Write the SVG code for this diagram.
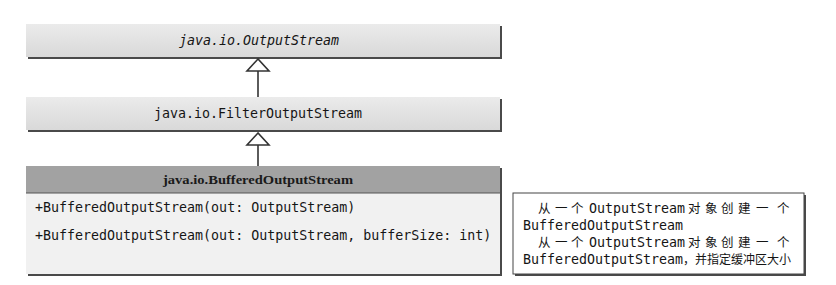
<svg xmlns="http://www.w3.org/2000/svg" width="836" height="285" viewBox="0 0 836 285">
  <style>
    .shadow { fill: #4a4a4a; }
    .cls { fill: url(#boxFill); }
    .mono { font-family: "DejaVu Sans Mono", "Liberation Mono", "Noto Sans CJK SC", monospace; font-size: 13.3px; fill: #151515; }
    .cjk { font-family: "Noto Sans CJK SC", sans-serif; font-size: 12.5px; fill: #151515; }
    .cjk-s { font-family: "Noto Sans CJK SC", sans-serif; font-size: 12px; }
    .hdr { font-family: "Liberation Serif", serif; font-weight: bold; font-size: 13px; fill: #1a1a1a; }
    .edge { stroke: #333; stroke-width: 1.6; fill: none; }
    .tri { stroke: #333; stroke-width: 1.6; fill: #fff; }
  </style>
  <defs>
    <linearGradient id="boxFill" x1="0" y1="0" x2="0" y2="1">
      <stop offset="0" stop-color="#ebebeb"/>
      <stop offset="1" stop-color="#d9d9d9"/>
    </linearGradient>
  </defs>
  <rect width="836" height="285" fill="#fff"/>

  <!-- superclass -->
  <g id="outputStream">
    <rect class="shadow" x="28" y="26" width="474" height="33"/>
    <rect class="cls" x="26" y="24" width="474" height="33"/>
    <text class="mono" x="259" y="45" text-anchor="middle" font-style="italic">java.io.OutputStream</text>
  </g>

  <g id="filterOutputStream">
    <rect class="shadow" x="28" y="99" width="474" height="33"/>
    <rect class="cls" x="26" y="97" width="474" height="33"/>
    <text class="mono" x="258" y="118" text-anchor="middle">java.io.FilterOutputStream</text>
  </g>

  <g id="bufferedOutputStream">
    <rect class="shadow" x="28" y="168" width="474" height="108"/>
    <rect x="26" y="166" width="474" height="108" fill="#f1f1f1"/>
    <rect x="26" y="166" width="474" height="27" fill="#a2a2a2"/>
    <line x1="26" y1="193" x2="500" y2="193" stroke="#555" stroke-width="1.2"/>
    <text class="hdr" x="258" y="184" text-anchor="middle" textLength="190" lengthAdjust="spacingAndGlyphs">java.io.BufferedOutputStream</text>
    <text class="mono" x="35" y="212">+BufferedOutputStream(out: OutputStream)</text>
    <text class="mono" x="35" y="240">+BufferedOutputStream(out: OutputStream, bufferSize: int)</text>
  </g>

  <g id="note">
    <rect class="shadow" x="515" y="195" width="291" height="81"/>
    <rect x="513" y="193" width="291" height="81" fill="#fff" stroke="#444" stroke-width="1"/>
    <text class="cjk" x="538" y="213">从</text>
    <text class="cjk" x="555" y="213">一</text>
    <text class="cjk" x="571" y="213">个</text>
    <text class="mono" x="589" y="213">OutputStream</text>
    <text class="cjk" x="688" y="213">对</text>
    <text class="cjk" x="705" y="213">象</text>
    <text class="cjk" x="721" y="213">创</text>
    <text class="cjk" x="738" y="213">建</text>
    <text class="cjk" x="756" y="213">一</text>
    <text class="cjk" x="777" y="213">个</text>
    <text class="mono" x="523" y="230">BufferedOutputStream</text>
    <text class="cjk" x="538" y="247">从</text>
    <text class="cjk" x="555" y="247">一</text>
    <text class="cjk" x="571" y="247">个</text>
    <text class="mono" x="589" y="247">OutputStream</text>
    <text class="cjk" x="688" y="247">对</text>
    <text class="cjk" x="705" y="247">象</text>
    <text class="cjk" x="721" y="247">创</text>
    <text class="cjk" x="738" y="247">建</text>
    <text class="cjk" x="756" y="247">一</text>
    <text class="cjk" x="777" y="247">个</text>
    <text class="mono" x="523" y="264">BufferedOutputStream<tspan class="cjk-s">，并指定缓冲区大小</tspan></text>
  </g>

  <!-- generalization connectors -->
  <g id="connectors">
    <line class="edge" x1="258" y1="71" x2="258" y2="97"/>
    <polygon class="tri" points="258,59 247,71 269,71"/>
    <line class="edge" x1="258" y1="145" x2="258" y2="166"/>
    <polygon class="tri" points="258,133 247,145 269,145"/>
  </g>
</svg>
